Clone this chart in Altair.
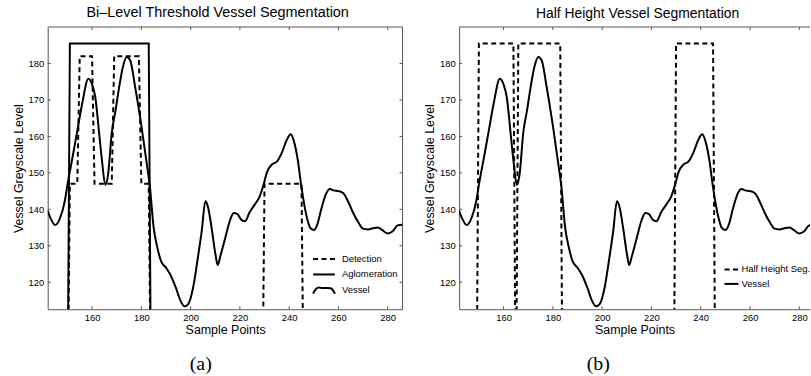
import altair as alt
import pandas as pd

# ---------------- data ----------------
sample = [142, 143, 145, 147, 149, 150, 152, 154, 156, 158.5, 160, 161.3, 163, 164, 165.4,
          166.5, 168, 169.5, 171, 172.5, 174.1, 175.5, 177.5, 180, 182, 183.5, 185, 186.5,
          188, 190, 192, 194, 196, 197.5, 199, 201, 203, 204.5, 206, 207, 208.5, 210, 211,
          212, 214, 216, 217.5, 219, 220.5, 222, 224, 226, 228, 229.5, 231, 233, 235, 237,
          239, 240.6, 242, 243.5, 245, 247, 248.5, 250, 251.5, 253, 255, 256.5, 258, 260,
          262, 264, 266, 268, 270, 272, 274, 276, 278, 280, 282, 284, 286]
grey = [139.6, 137.8, 135.7, 137.6, 142.5, 146.7, 154, 161.5, 169, 175.8, 174.3, 170.8, 160,
        153.5, 146.7, 149.5, 161, 167, 173.5, 179, 181.8, 180.8, 173.5, 163, 153.5, 146, 135,
        129.5, 125.8, 124, 121.8, 118.5, 114.8, 113.4, 114, 118.5, 127, 134, 142.2, 140.8,
        135, 128, 124.7, 127, 132, 137, 139, 138.7, 137.2, 136.7, 139.3, 141.3, 143.5, 146.5,
        150.2, 152.3, 153.1, 155.5, 159, 160.6, 158.5, 153.5, 146, 138.3, 135, 134.3, 136,
        140, 144.3, 145.6, 145.2, 145, 144.4, 142, 139, 136.5, 134.7, 134.5, 134.8, 135,
        134.2, 133.4, 134, 135.6, 135.8]

# Bi-level detection (dashed) and aglomeration (solid) step paths
det_x = [150, 151, 154, 155, 160, 161, 168, 169, 179, 180, 183, 184, 229, 230, 245, 246]
det_y = [80, 147, 147, 182, 182, 147, 147, 182, 182, 147, 147, 80, 80, 147, 147, 80]
agl_x = [150, 151, 183, 184]
agl_y = [80, 185.5, 185.5, 80]
# Half height segmentation (dashed)
hh_x = [149, 150, 164, 165, 166, 183, 184, 229, 230, 245, 246]
hh_y = [80, 185.5, 185.5, 80, 185.5, 185.5, 80, 80, 185.5, 185.5, 80]

x_ticks = [160, 180, 200, 220, 240, 260, 280]
y_ticks = [120, 130, 140, 150, 160, 170, 180]

titles = ["Bi\u2013Level Threshold Vessel Segmentation", "Half Height Vessel Segmentation"]
captions = ["(a)", "(b)"]
legend_a = ["Detection", "Aglomeration", "Vessel"]
legend_b = ["Half Height Seg.", "Vessel"]
x_title = "Sample Points"
y_title = "Vessel Greyscale Level"

# ---------------- styling ----------------
FONT = "Liberation Sans"
AX = "#555555"
H = 284
DASH = [5, 3.5]
WAVE = ("M-1,0.35 C-0.8,-0.15 -0.6,-0.3 -0.3,-0.2 C0,-0.12 0.3,-0.22 0.6,-0.15 "
        "C0.8,-0.1 0.9,0.15 1,0.35")

one = pd.DataFrame({"k": [0]})


def panel(width, xmax, title, tdx, tsize, cap, capx, steps, legend, right_border):
    xs = alt.Scale(domain=[142, xmax], nice=False, zero=False)
    ys = alt.Scale(domain=[112.6, 190], nice=False, zero=False)
    X = alt.X("x:Q", scale=xs, axis=alt.Axis(values=x_ticks, title=x_title, format="d"))
    Y = alt.Y("y:Q", scale=ys, axis=alt.Axis(values=y_ticks, title=y_title, format="d"))

    layers = []
    xt = pd.DataFrame({"x": x_ticks})
    yt = pd.DataFrame({"y": y_ticks})
    layers.append(alt.Chart(xt).mark_rule(color=AX, strokeWidth=1).encode(X, y=alt.value(0), y2=alt.value(3)))
    layers.append(alt.Chart(xt).mark_rule(color=AX, strokeWidth=1).encode(X, y=alt.value(H - 3), y2=alt.value(H)))
    layers.append(alt.Chart(yt).mark_rule(color=AX, strokeWidth=1).encode(Y, x=alt.value(0), x2=alt.value(3)))
    layers.append(alt.Chart(one).mark_rule(color=AX, strokeWidth=1).encode(
        x=alt.value(0), x2=alt.value(width), y=alt.value(0)))
    if right_border:
        layers.append(alt.Chart(yt).mark_rule(color=AX, strokeWidth=1).encode(
            Y, x=alt.value(width - 3), x2=alt.value(width)))
        layers.append(alt.Chart(one).mark_rule(color=AX, strokeWidth=1).encode(
            x=alt.value(width), y=alt.value(0), y2=alt.value(H)))

    layers.append(alt.Chart(pd.DataFrame({"x": sample, "y": grey})).mark_line(
        color="black", strokeWidth=2, clip=True, interpolate="monotone").encode(X, Y))
    for sx, sy, dashed in steps:
        kw = dict(color="black", strokeWidth=2, clip=True)
        if dashed:
            kw["strokeDash"] = DASH
        layers.append(alt.Chart(pd.DataFrame({"x": sx, "y": sy})).mark_line(**kw).encode(X, Y))

    # legend
    lx0, lx1, tx, rows = legend["x0"], legend["x1"], legend["tx"], legend["rows"]
    for (label, style), ry in zip(legend["items"], rows):
        if style == "wave":
            layers.append(alt.Chart(one).mark_point(
                shape=WAVE, size=(lx1 - lx0) ** 2, filled=False, color="black",
                strokeWidth=2, opacity=1).encode(x=alt.value((lx0 + lx1) / 2), y=alt.value(ry)))
        else:
            kw = dict(color="black", strokeWidth=2)
            if style == "dash":
                kw["strokeDash"] = DASH
            layers.append(alt.Chart(one).mark_rule(**kw).encode(
                x=alt.value(lx0), x2=alt.value(lx1), y=alt.value(ry)))
        layers.append(alt.Chart(one).mark_text(
            font=FONT, fontSize=9.5, align="left", baseline="middle", color="black", clip=True
        ).encode(x=alt.value(tx), y=alt.value(ry), text=alt.value(label)))

    layers.append(alt.Chart(one).mark_text(
        font="Liberation Serif", fontSize=20, align="center", baseline="middle", color="black"
    ).encode(x=alt.value(capx), y=alt.value(H + 55), text=alt.value(cap)))

    return alt.layer(*layers).properties(
        width=width, height=H,
        title=alt.TitleParams(text=title, font=FONT, fontSize=tsize, fontWeight="normal",
                              anchor="middle", frame="group", dx=tdx, offset=0, dy=5,
                              baseline="alphabetic", color="black"))


left = panel(357, 286, titles[0], -7.5, 14.5, captions[0], 154,
             [(det_x, det_y, True), (agl_x, agl_y, False)],
             {"x0": 267, "x1": 289, "tx": 296, "rows": [233.5, 249, 264.5],
              "items": [(legend_a[0], "dash"), (legend_a[1], "solid"), (legend_a[2], "wave")]},
             True)
right = panel(353, 142 + 353 / 2.48, titles[1], 3, 14, captions[1], 140,
              [(hh_x, hh_y, True)],
              {"x0": 267, "x1": 281, "tx": 284, "rows": [244, 258.5],
               "items": [(legend_b[0], "dash"), (legend_b[1], "solid")]},
              False)

chart = alt.hconcat(left, right, spacing=20).properties(
    padding={"left": 12, "top": 4, "right": 0, "bottom": 0},
    background="white",
).configure_view(strokeWidth=0).configure_axis(
    labelFont=FONT, labelFontSize=9.5, labelColor="black",
    titleFont=FONT, titleFontSize=12.5, titleFontWeight="normal", titleColor="black",
    ticks=False, grid=False, domainColor=AX, domainWidth=1, labelPadding=3,
).configure_axisY(titlePadding=3, labelPadding=4).configure_axisX(titlePadding=2)

chart.save("out.html", embed_options={"renderer": "svg", "actions": False})
